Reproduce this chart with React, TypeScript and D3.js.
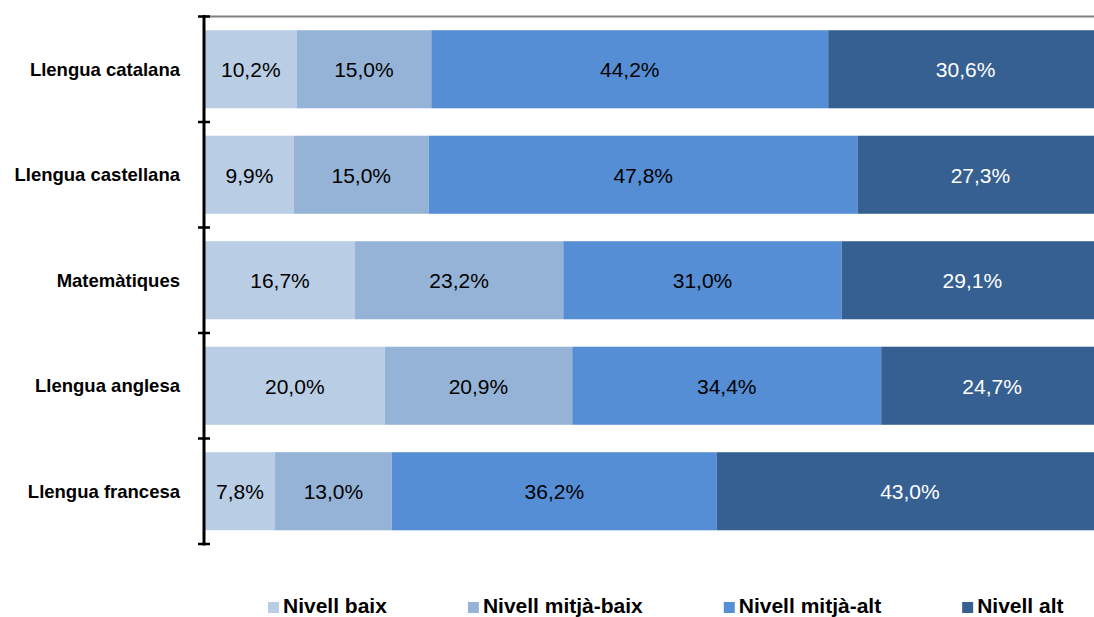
import React, { useMemo } from "react";
import * as d3 from "d3";

const categories = [
  "Llengua catalana",
  "Llengua castellana",
  "Matemàtiques",
  "Llengua anglesa",
  "Llengua francesa",
];
const seriesNames = ["Nivell baix", "Nivell mitjà-baix", "Nivell mitjà-alt", "Nivell alt"];
const nivellBaix = [10.2, 9.9, 16.7, 20.0, 7.8];
const nivellMitjaBaix = [15.0, 15.0, 23.2, 20.9, 13.0];
const nivellMitjaAlt = [44.2, 47.8, 31.0, 34.4, 36.2];
const nivellAlt = [30.6, 27.3, 29.1, 24.7, 43.0];
const seriesColors = ["#B9CDE5", "#95B3D7", "#558ED5", "#376092"];
const labelColors = ["#000000", "#000000", "#000000", "#FFFFFF"];

const W = 1094;
const H = 617;
const FONT = "'Liberation Sans', Arial, Helvetica, sans-serif";

function measure(text: string, font: string): number {
  const c = document.createElement("canvas");
  const ctx = c.getContext("2d");
  if (!ctx) return text.length * 10;
  ctx.font = font;
  return ctx.measureText(text).width;
}

export default function App() {
  const seriesValues = [nivellBaix, nivellMitjaBaix, nivellMitjaAlt, nivellAlt];
  const rows = categories.map((c, i) => {
    const r: any = { cat: c };
    seriesNames.forEach((s, j) => (r[s] = seriesValues[j][i]));
    return r;
  });
  const stack = d3.stack<any>().keys(seriesNames)(rows);

  const x = d3.scaleLinear().domain([0, 100]).range([205, 1103]);
  const y = d3.scaleBand<string>().domain(categories).range([16.5, 544]).paddingInner(0.26).paddingOuter(0.13);
  const yTicks = d3.scaleBand<string>().domain(categories).range([16.5, 544]);

  const legend = useMemo(() => {
    let cx = 268;
    return seriesNames.map((s, i) => {
      const w = measure(s, `bold 21px ${FONT}`);
      const item = { s, i, x: cx };
      cx += 15 + w + 81;
      return item;
    });
  }, []);

  const fmt = (v: number) => v.toFixed(1).replace(".", ",") + "%";
  const tickYs = [...categories.map((c) => yTicks(c) as number), 544];

  return (
    <svg
      width={W}
      height={H}
      style={{ position: "absolute", left: 0, top: 0, background: "#fff" }}
      fontFamily={FONT}
    >
      {/* top border */}
      <line x1={204} x2={W} y1={16.5} y2={16.5} stroke="#808080" strokeWidth={2} />
      {/* bars */}
      {stack.map((layer, j) => (
        <g key={layer.key}>
          {layer.map((d, i) => (
            <rect
              key={i}
              x={x(d[0])}
              y={y(categories[i])}
              width={x(d[1]) - x(d[0])}
              height={y.bandwidth()}
              fill={seriesColors[j]}
            />
          ))}
          {layer.map((d, i) => (
            <text
              key={"t" + i}
              x={(x(d[0]) + x(d[1])) / 2}
              y={(y(categories[i]) as number) + y.bandwidth() / 2}
              dy="0.37em"
              textAnchor="middle"
              fontSize={21}
              fill={labelColors[j]}
            >
              {fmt(d[1] - d[0])}
            </text>
          ))}
        </g>
      ))}
      {/* axis */}
      <line x1={204} x2={204} y1={15} y2={545.5} stroke="#000" strokeWidth={3} />
      {tickYs.map((ty, i) => (
        <line key={i} x1={198} x2={210} y1={ty} y2={ty} stroke="#000" strokeWidth={2.5} />
      ))}
      {categories.map((c) => (
        <text
          key={c}
          x={180}
          y={(y(c) as number) + y.bandwidth() / 2}
          dy="0.35em"
          textAnchor="end"
          fontSize={18.5}
          fontWeight="bold"
          fill="#000"
        >
          {c}
        </text>
      ))}
      {/* legend */}
      {legend.map((l) => (
        <g key={l.s}>
          <rect x={l.x} y={602} width={11} height={11} fill={seriesColors[l.i]} />
          <text x={l.x + 15} y={613} fontSize={21} fontWeight="bold" fill="#000">
            {l.s}
          </text>
        </g>
      ))}
    </svg>
  );
}
